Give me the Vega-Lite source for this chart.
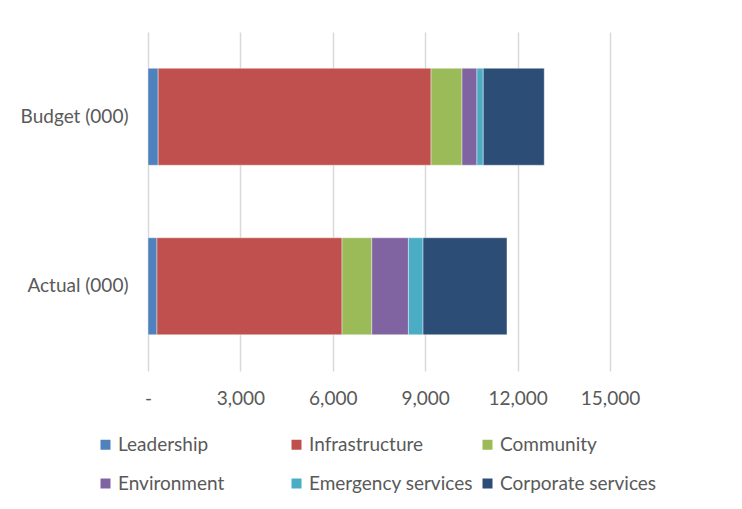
{
  "$schema": "https://vega.github.io/schema/vega-lite/v6.json",
  "width": 462,
  "height": 339,
  "autosize": {"type": "none"},
  "padding": {"left": 148, "top": 32, "right": 132, "bottom": 138},
  "background": "white",
  "config": {"view": {"stroke": null}, "font": "Lato"},
  "data": {
    "values": [
      {"measure": "Budget (000)", "segment": "Leadership", "value": 330},
      {"measure": "Budget (000)", "segment": "Infrastructure", "value": 8860},
      {"measure": "Budget (000)", "segment": "Community", "value": 1005},
      {"measure": "Budget (000)", "segment": "Environment", "value": 485},
      {"measure": "Budget (000)", "segment": "Emergency services", "value": 205},
      {"measure": "Budget (000)", "segment": "Corporate services", "value": 1980},
      {"measure": "Actual (000)", "segment": "Leadership", "value": 290},
      {"measure": "Actual (000)", "segment": "Infrastructure", "value": 6010},
      {"measure": "Actual (000)", "segment": "Community", "value": 965},
      {"measure": "Actual (000)", "segment": "Environment", "value": 1190},
      {"measure": "Actual (000)", "segment": "Emergency services", "value": 475},
      {"measure": "Actual (000)", "segment": "Corporate services", "value": 2725}
    ]
  },
  "transform": [{"window": [{"op": "row_number", "as": "k"}]}],
  "mark": {"type": "bar", "stroke": "white", "strokeWidth": 0.8, "strokeOpacity": 0.5},
  "encoding": {
    "y": {
      "field": "measure",
      "type": "nominal",
      "sort": ["Budget (000)", "Actual (000)"],
      "scale": {"paddingInner": 0.428, "paddingOuter": 0.214},
      "axis": {"title": null, "ticks": false, "domain": false, "labelPadding": 20, "labelFontSize": 19, "labelColor": "#595959", "labelFont": "Lato"}
    },
    "x": {
      "field": "value",
      "type": "quantitative",
      "stack": "zero",
      "scale": {"domain": [0, 15000], "nice": false},
      "axis": {
        "title": null,
        "values": [0, 3000, 6000, 9000, 12000, 15000],
        "labelExpr": "datum.value == 0 ? '-' : format(datum.value, ',')",
        "labelFlush": false,
        "ticks": false,
        "domain": false,
        "grid": true,
        "gridColor": "#d9d9d9",
        "gridWidth": 1.5,
        "labelPadding": 18,
        "labelFontSize": 19,
        "labelColor": "#595959",
        "labelFont": "Lato"
      }
    },
    "color": {
      "field": "segment",
      "type": "nominal",
      "scale": {
        "domain": ["Leadership", "Infrastructure", "Community", "Environment", "Emergency services", "Corporate services"],
        "range": ["#4F81BD", "#C0504D", "#9BBB59", "#8064A2", "#4BACC6", "#2C4D75"]
      },
      "legend": {
        "title": null,
        "orient": "none",
        "legendX": -52,
        "legendY": 403,
        "direction": "horizontal",
        "columns": 3,
        "gridAlign": "all",
        "columnPadding": 5,
        "rowPadding": 19,
        "symbolType": "square",
        "symbolSize": 100,
        "symbolStrokeWidth": 0,
        "labelOffset": 3,
        "labelFontSize": 19,
        "labelColor": "#595959",
        "labelFont": "Lato",
        "labelLimit": 300
      }
    },
    "order": {"field": "k", "type": "quantitative"}
  }
}
